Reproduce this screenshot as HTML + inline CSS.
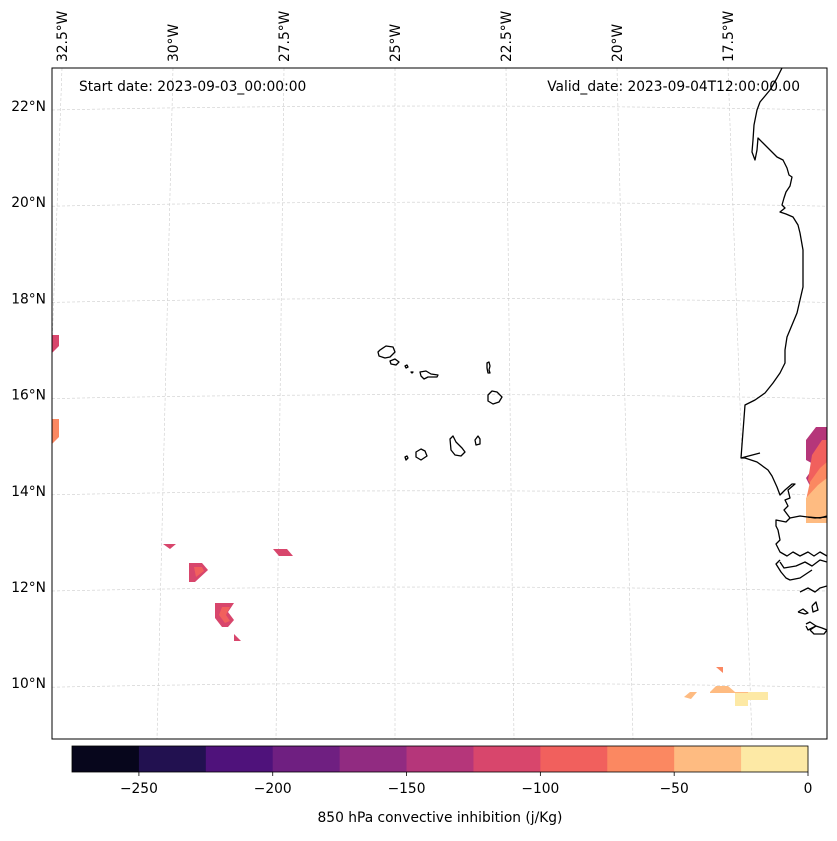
<!DOCTYPE html>
<html><head><meta charset="utf-8"><style>
body{margin:0;background:#fff;}
svg text{font-family:"DejaVu Sans","Liberation Sans",sans-serif;fill:#000;}
</style></head><body>
<svg id="chart" width="837" height="836" viewBox="0 0 837 836" xmlns="http://www.w3.org/2000/svg">
<defs><clipPath id="mapclip"><rect x="52" y="68" width="775" height="671"/></clipPath></defs>
<g id="grid" clip-path="url(#mapclip)"></g>
<g id="fills" clip-path="url(#mapclip)"></g>
<g id="coast" clip-path="url(#mapclip)" fill="none" stroke="#000" stroke-width="1.3" stroke-linejoin="round"></g>
<rect x="52" y="68" width="775" height="671" fill="none" stroke="#000" stroke-width="1"/>
<text x="79" y="91" font-size="13.8">Start date: 2023-09-03_00:00:00</text>
<text x="800" y="91" font-size="13.8" text-anchor="end">Valid_date: 2023-09-04T12:00:00.00</text>
<g id="latlabels"></g>
<g id="lonlabels"></g>
<g id="cbar"></g>
<text x="440" y="822" font-size="13.8" text-anchor="middle">850 hPa convective inhibition (j/Kg)</text>
</svg>
<script>
const NS="http://www.w3.org/2000/svg";
const latTicks=[22,20,18,16,14,12,10];
const lonTicks=[32.5,30,27.5,25,22.5,20,17.5];
const cbarLevels=[-275,-250,-225,-200,-175,-150,-125,-100,-75,-50,-25,0];
const cbarTicks=[-250,-200,-150,-100,-50,0];
const cbarColors=["#07061c","#221150","#4f127b","#6f1f81","#912b81","#b5367a","#d8466c","#f1605d","#fb8861","#febb81","#fde9a5"];
const patchValues=[-125,-75,-125,-125,-100,-125,-125,-100,-125,-150,-100,-75,-50,-25,-50,-50,-75,-25];
const patchShapes=[
"52,335 59,335 59,346 52,353","52,419 59,419 59,437 52,444",
"163,544 176,544 170,549","189,563 202,563 208,570 195,582 189,582","194,567 202,567 204,571 196,577",
"273,549 287,549 293,556 279,556","208,595 215,603 234,603 228,612 234,620 228,627 222,627 215,618 215,603",
"222,607 230,607 226,615 230,621 225,623 219,615","234,634 241,641 234,641",
"806,440 816,427 827,427 827,523 806,523 806,500 812,490 806,478 815,465 806,460",
"812,455 822,440 827,440 827,523 806,523 806,505 815,492 808,480","810,482 820,468 827,462 827,523 806,523 806,500",
"806,498 818,485 827,478 827,523 806,523",
"735,692 768,692 768,700 748,700 748,706 735,706",
"684,697 690,692 697,692 691,699","710,692 716,686 728,686 735,692 748,692 748,693 710,693","716,667 723,667 723,673",
"748,694 768,694 768,699 748,699"];
function el(tag,attrs,parent){const e=document.createElementNS(NS,tag);for(const k in attrs)e.setAttribute(k,attrs[k]);parent.appendChild(e);return e;}
const yLat=l=>106+(22-l)*48.1;
const lonTop=lo=>62+(32.5-lo)*44.4;
const lonSlant=lo=>(25-lo)*3.2;
function cbx(v){return 72+(v-cbarLevels[0])/(cbarLevels[cbarLevels.length-1]-cbarLevels[0])*736;}
function colorFor(v){for(let i=0;i<cbarLevels.length-1;i++){if(v>=cbarLevels[i]&&v<cbarLevels[i+1])return cbarColors[i];}return cbarColors[cbarColors.length-1];}
const grid=document.getElementById('grid');
latTicks.forEach(l=>{const y=yLat(l);const p=el('path',{d:`M52 ${y+4} Q440 ${y-4} 827 ${y+4}`,stroke:'#ccc','stroke-width':0.6,'stroke-dasharray':'3,2',fill:'none'},grid);

const t=el('text',{x:46,y:y+5,'font-size':13.8,'text-anchor':'end'},document.getElementById('latlabels'));t.textContent=l+'°N';
});
lonTicks.forEach(lo=>{const x=lonTop(lo);const p=el('line',{x1:x,y1:68,x2:x+lonSlant(lo),y2:739,stroke:'#ccc','stroke-width':0.6,'stroke-dasharray':'3,2'},grid);

const t=el('text',{x:0,y:0,'font-size':13.8,transform:`translate(${x+5},62) rotate(-90)`},document.getElementById('lonlabels'));t.textContent=lo+'°W';
});
const fills=document.getElementById('fills');
patchShapes.forEach((s,i)=>{const p=el('polygon',{points:s,fill:colorFor(patchValues[i])},fills);
});
const coast=document.getElementById('coast');
const coastLines=[
"782,68 777,78 770,90 760,102 757,110 754,125 753,140 752,152 755,160 757,150 758,138 763,143 770,150 777,157 783,160 787,168 789,175 792,177 790,186 786,192 784,198 782,205 785,208 780,212 786,214 793,217 798,225 800,233 803,250 803,270 803,287 800,300 797,313 792,325 787,337 785,350 785,363 780,373 773,383 765,393 755,400 745,405 741,458 745,458 757,462 768,470 772,476 777,487 780,495 785,490 792,484 795,484 788,490 790,498 785,500 788,506 784,510 790,518 800,516 815,518 827,517",
"741,458 760,453",
"808,517 820,518 827,516",
"790,518 786,522 776,520 776,526 778,530 780,540 776,544 780,552 787,556 793,552 800,556 808,552 814,556 820,552 827,556",
"780,562 784,568 796,566 805,562 812,566 820,560 827,562",
"780,560 776,564 781,572 786,578 790,580 800,578 806,574 812,570",
"800,592 808,588 815,592 820,588 827,586",
"798,612 803,609 808,613 805,614 798,612",
"812,606 816,602 818,610 813,612 812,606",
"806,624 810,622 816,626 808,630 806,626",
"810,630 816,626 822,628 827,630 824,634 814,634 810,630"];
coastLines.forEach(s=>{const p=el('polyline',{points:s},coast);});
const islands=[
"380,350 386,346 393,347 395,352 390,357 385,358 379,356 378,352",
"390,361 395,359 399,362 396,365 391,364",
"405,366 407,365 408,367 406,368",
"411,372 413,372 412,373",
"420,372 426,371 431,374 438,375 437,377 428,377 424,379 421,376",
"487,363 489,362 490,366 489,370 490,373 488,373 487,368",
"488,395 492,391 497,392 502,397 499,402 493,404 488,401",
"450,439 453,436 456,442 462,448 465,452 461,456 455,455 451,450",
"475,440 478,436 480,439 480,444 476,445",
"416,452 421,449 425,451 427,456 421,460 416,457",
"405,457 407,456 408,458 406,460"];
islands.forEach(s=>{const p=el('polygon',{points:s},coast);});
const cb=document.getElementById('cbar');
cbarColors.forEach((c,i)=>{const x0=cbx(cbarLevels[i]),x1=cbx(cbarLevels[i+1]);
const r=el('rect',{x:x0,y:746,width:x1-x0+0.5,height:26,fill:c},cb);});
el('rect',{x:72,y:746,width:736,height:26,fill:'none',stroke:'#000','stroke-width':0.8},cb);
cbarTicks.forEach(v=>{const x=cbx(v);el('line',{x1:x,y1:772,x2:x,y2:776,stroke:'#000','stroke-width':0.8},cb);
const t=el('text',{x:x,y:793,'font-size':13.8,'text-anchor':'middle'},cb);t.textContent=(v<0?'\u2212'+(-v):v);
});
</script>
</body></html>
